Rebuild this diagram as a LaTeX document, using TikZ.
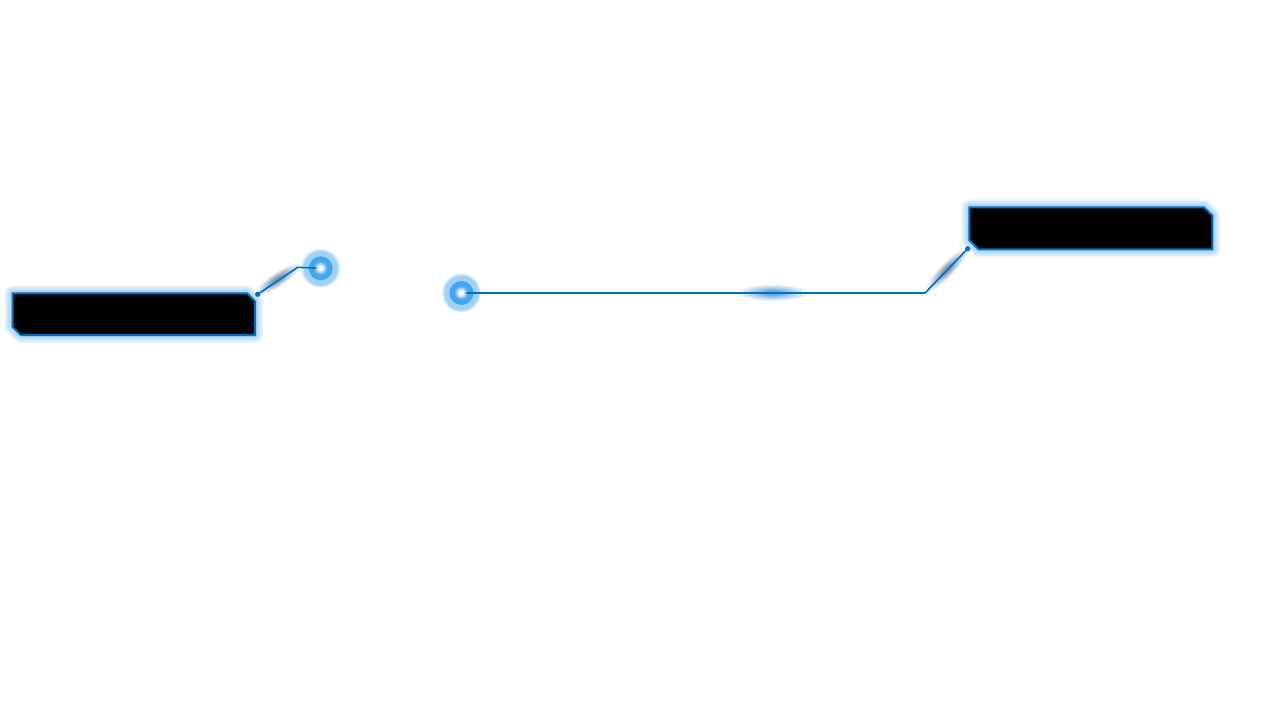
\documentclass[tikz,border=0pt]{standalone}
\usetikzlibrary{calc}
\definecolor{lineblue}{RGB}{0,112,192}
\definecolor{glowblue}{RGB}{30,140,230}
\definecolor{ringout}{RGB}{150,205,245}
\definecolor{ringin}{RGB}{70,165,240}
\definecolor{glint}{RGB}{40,90,140}
\tikzset{
  wire/.style={draw=lineblue, line width=1.6pt, line join=miter},
  panel/.style={fill=black, draw=lineblue, line width=2pt},
  enddot/.style={fill=lineblue, draw=none},
}
\begin{document}
\begin{tikzpicture}[x=1pt,y=-1pt]
\useasboundingbox (0,0) rectangle (1266,714);
% glow around panels
\foreach \w in {16,13,10,7,4}{
  \draw[glowblue, line width=\w pt, opacity=0.09, line join=round]
    (12.7,293.3) -- (247,293.3) -- (255,301.3) -- (255,335) -- (20.7,335) -- (12.7,327) -- cycle;
  \draw[glowblue, line width=\w pt, opacity=0.09, line join=round]
    (969.3,207.3) -- (1204,207.3) -- (1212.3,215.6) -- (1212.3,249.3) -- (978.5,249.3) -- (969.3,240) -- cycle;
}
% glints (blurred)
\foreach \s/\o in {1/0.09,0.85/0.1,0.7/0.12,0.55/0.14,0.4/0.17,0.25/0.22}{
  \fill[glint, opacity=\o] (278,279.5) ellipse [x radius=24*\s+2, y radius=6*\s+1, rotate=34];
  \fill[glint, opacity=\o] (947,270) ellipse [x radius=27*\s+2, y radius=6*\s+1, rotate=46];
  \fill[lineblue, opacity=\o] (773,293) ellipse [x radius=34*\s+1, y radius=7*\s+1];
}
% panels
\path[panel] (12.7,293.3) -- (247,293.3) -- (255,301.3) -- (255,335) -- (20.7,335) -- (12.7,327) -- cycle;
\path[panel] (969.3,207.3) -- (1204,207.3) -- (1212.3,215.6) -- (1212.3,249.3) -- (978.5,249.3) -- (969.3,240) -- cycle;
% named points
\coordinate (ldot) at (257.7,294.3);
\coordinate (lbend) at (297.7,267.3);
\coordinate (lc) at (320.7,268.3);
\coordinate (rdot) at (967.7,248.7);
\coordinate (rbend) at (925,293);
\coordinate (mc) at (461.5,293);
% circles outer rings
\foreach \c in {lc,mc}{
  \foreach \r/\o in {19.5/0.3,18.5/0.4,17.5/0.5,16.5/0.6}{
    \fill[ringout, opacity=\o] (\c) circle (\r);
  }
  \fill[ringin] (\c) circle (12);
  \fill[ringin!85!white] (\c) circle (7);
}
% wires
\draw[wire] (ldot) -- (lbend) -- (lc);
\draw[wire] (rdot) -- (rbend) -- (mc);
\fill[enddot] (ldot) circle (2.6);
\fill[enddot] (rdot) circle (2.6);
% white centres
\foreach \c in {lc,mc}{
  \fill[white, opacity=0.35] (\c) circle (5.5);
  \fill[white, opacity=0.6] (\c) circle (4);
  \fill[white] (\c) circle (2.5);
}
\end{tikzpicture}
\end{document}
